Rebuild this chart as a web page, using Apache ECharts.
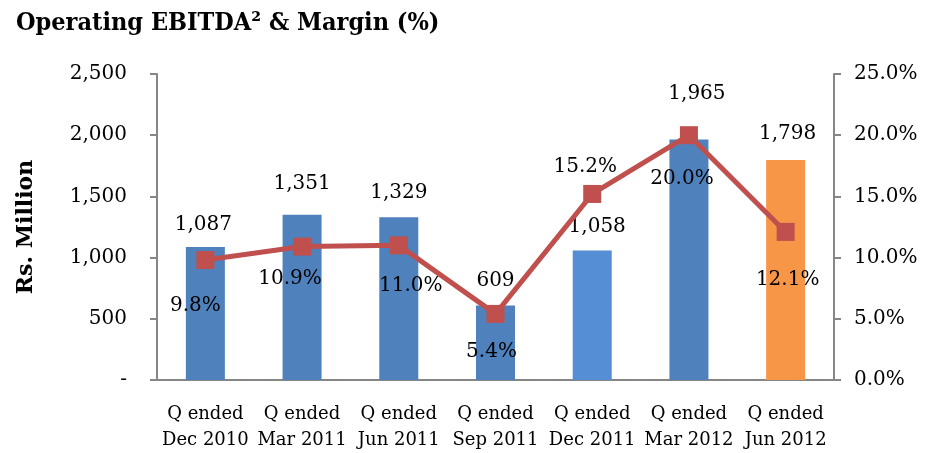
<!DOCTYPE html>
<html>
<head>
<meta charset="utf-8">
<script src="https://cdn.jsdelivr.net/npm/echarts@6/dist/echarts.min.js"></script>
<style>
    html, body { margin: 0; padding: 0; background: #fff; }
    #chart { width: 928px; height: 453px; }
</style>
</head>
<body>
<div id="chart"></div>
<script>
let categories = ['Q ended\nDec 2010', 'Q ended\nMar 2011', 'Q ended\nJun 2011', 'Q ended\nSep 2011',
    'Q ended\nDec 2011', 'Q ended\nMar 2012', 'Q ended\nJun 2012'];
let ebitda = [1087, 1351, 1329, 609, 1058, 1965, 1798];
let margin = [9.8, 10.9, 11.0, 5.4, 15.2, 20.0, 12.1];
let leftTicks = [0, 500, 1000, 1500, 2000, 2500];
let rightTicks = [0, 5, 10, 15, 20, 25];

// 柱子颜色，Dec 2011 浅一点，Jun 2012 橙色
let barColors = ['#4f81bd', '#4f81bd', '#4f81bd', '#4f81bd', '#558ed5', '#4f81bd', '#f79646'];
// 标签偏移（相对柱顶 / 折线点）
let barLabelOffset = [[-2, -12], [0, -21], [0, -15], [0, -15], [5, -14], [8, -36], [2, -16]];
let lineLabelOffset = [[-10, 46], [-12, 32], [12, 40], [-4, 38], [-7, -27], [-7, 44], [2, 48]];

let fontFamily = '"DejaVu Serif", serif';
let myChart = echarts.init(document.getElementById('chart'));

let option = {
    animation: false,
    textStyle: { fontFamily: fontFamily },
    title: {
        text: 'Operating EBITDA² & Margin (%)',
        left: 11,
        top: 6,
        textStyle: { fontFamily: '"DejaVu Serif Condensed", "DejaVu Serif", serif', fontSize: 25, fontWeight: 'bold', color: '#000' }
    },
    grid: { left: 157, right: 94, top: 74, bottom: 73 },
    xAxis: {
        type: 'category',
        data: categories,
        axisLine: { lineStyle: { color: '#868686', width: 2 } },
        axisTick: { length: 7, lineStyle: { color: '#868686', width: 2 } },
        axisLabel: { interval: 0, color: '#000', fontSize: 18, lineHeight: 26, margin: 21, fontFamily: fontFamily }
    },
    yAxis: [{
        type: 'value',
        min: 0,
        max: 2500,
        interval: 500,
        name: 'Rs. Million',
        nameLocation: 'middle',
        nameGap: 120,
        nameTextStyle: { fontSize: 22, fontWeight: 'bold', color: '#000', fontFamily: fontFamily },
        splitLine: { show: false },
        axisLine: { show: true, lineStyle: { color: '#868686', width: 2 } },
        axisTick: { show: true, length: 7, lineStyle: { color: '#868686', width: 2 } },
        axisLabel: {
            color: '#000', fontSize: 20, margin: 30, fontFamily: fontFamily,
            formatter: function (v) {
                if (leftTicks.indexOf(v) < 0) return '';
                return v === 0 ? '-' : v.toLocaleString('en-US');
            }
        }
    }, {
        type: 'value',
        min: 0,
        max: 25,
        interval: 5,
        splitLine: { show: false },
        axisLine: { show: true, lineStyle: { color: '#868686', width: 2 } },
        axisTick: { show: true, length: 7, lineStyle: { color: '#868686', width: 2 } },
        axisLabel: {
            color: '#000', fontSize: 20, margin: 20, fontFamily: fontFamily,
            formatter: function (v) {
                if (rightTicks.indexOf(v) < 0) return '';
                return v.toFixed(1) + '%';
            }
        }
    }],
    series: [{
        type: 'bar',
        yAxisIndex: 0,
        barWidth: 39,
        data: ebitda.map(function (v, i) {
            return {
                value: v,
                itemStyle: { color: barColors[i] },
                label: { offset: barLabelOffset[i] }
            };
        }),
        label: {
            show: true,
            position: 'top',
            distance: 0,
            color: '#000',
            fontSize: 20,
            fontFamily: fontFamily,
            formatter: function (p) { return p.value.toLocaleString('en-US'); }
        }
    }, {
        type: 'line',
        yAxisIndex: 1,
        symbol: 'rect',
        symbolSize: 18,
        lineStyle: { color: '#c0504d', width: 5 },
        itemStyle: { color: '#c0504d' },
        z: 5,
        data: margin.map(function (v, i) {
            return { value: v, label: { offset: lineLabelOffset[i] } };
        }),
        label: {
            show: true,
            position: 'inside',
            color: '#000',
            fontSize: 20,
            fontFamily: fontFamily,
            formatter: function (p) { return p.value.toFixed(1) + '%'; }
        }
    }]
};
myChart.setOption(option);
</script>
</body>
</html>
